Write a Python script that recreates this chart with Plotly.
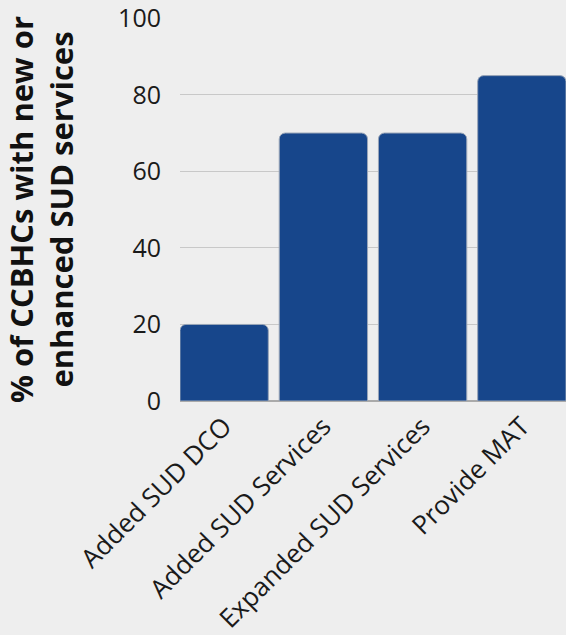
import plotly.graph_objects as go

categories = ["Added SUD DCO", "Added SUD Services", "Expanded SUD Services", "Provide MAT"]
values = [20, 70, 70, 85]
y_ticks = [0, 20, 40, 60, 80, 100]

fig = go.Figure(go.Bar(
    x=categories, y=values,
    marker=dict(color="#17468b", line=dict(color="#9aa6b8", width=1)),
    width=0.89,
))

fig.update_layout(
    width=566, height=635,
    margin=dict(l=180, r=0, t=18, b=231),
    paper_bgcolor="#eeeeee", plot_bgcolor="#eeeeee",
    barcornerradius=6,
    font=dict(family="Open Sans", color="#1a1a1a"),
    showlegend=False,
    xaxis=dict(
        range=[-0.445, 3.445], tickangle=-45, tickfont=dict(size=26),
        showgrid=False, ticks="", showline=False, ticklabelstandoff=4,
    ),
    yaxis=dict(
        range=[0, 100.05], tickvals=y_ticks, tickfont=dict(size=25),
        showgrid=True, gridcolor="#c8c8c8", gridwidth=1,
        zeroline=True, zerolinecolor="#aaaaaa", zerolinewidth=2,
        ticklabelstandoff=18, ticklabeloverflow="allow",
        title=dict(text="% of CCBHCs with new or<br>enhanced SUD services",
                   font=dict(size=31, family="Open Sans", weight="bold", color="#111111"),
                   standoff=45),
    ),
)

fig.write_html("out.html", config={"displayModeBar": False},
               post_script="document.body.style.margin='0';")
